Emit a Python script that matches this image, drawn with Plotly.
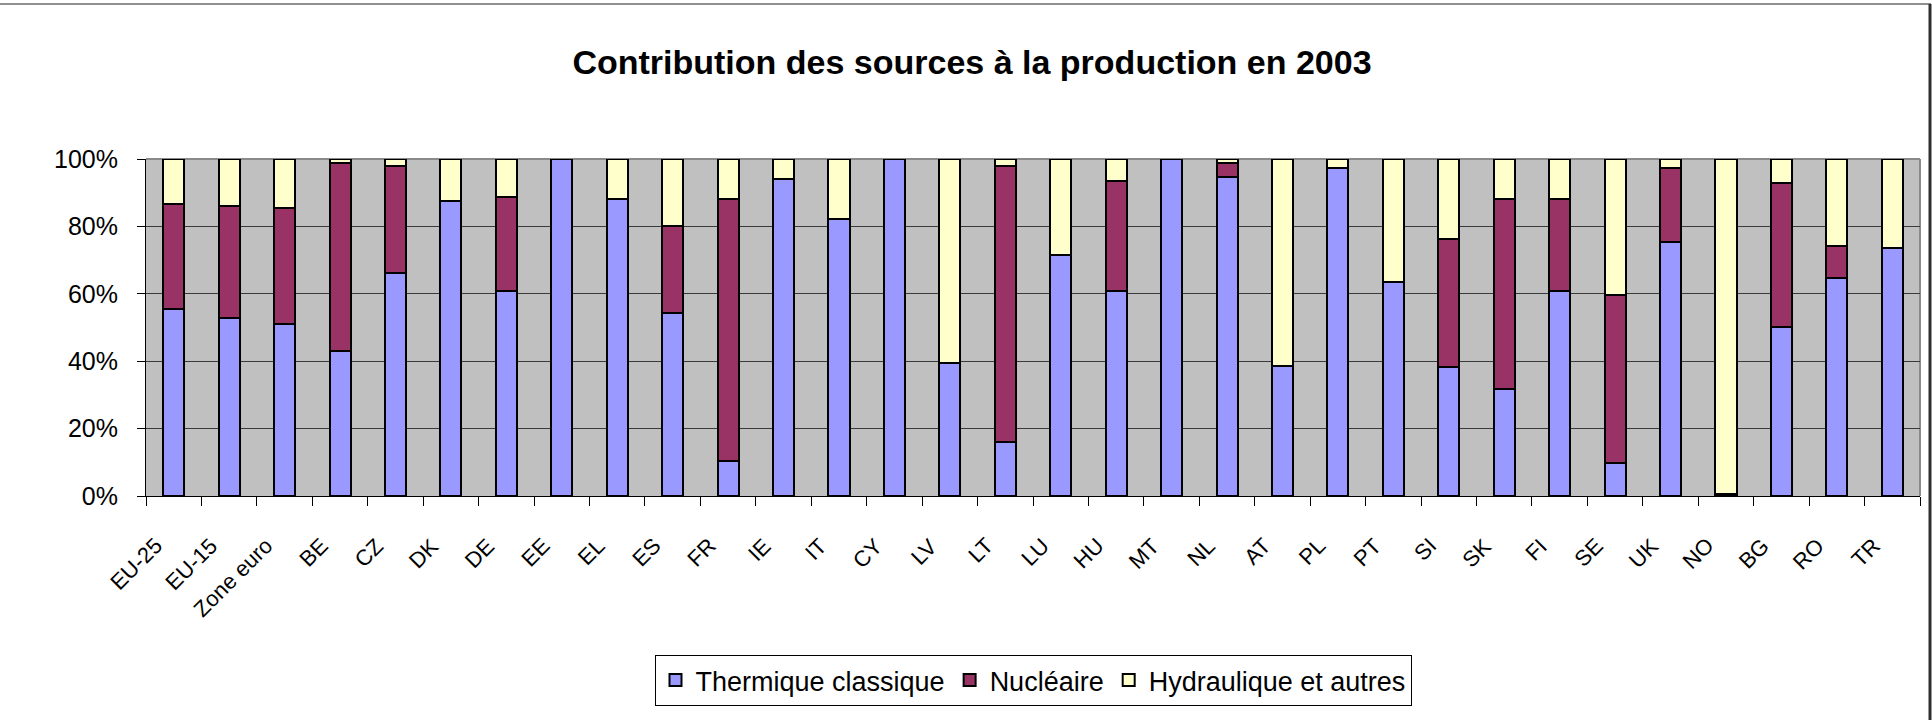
import plotly.graph_objects as go

categories = ["EU-25", "EU-15", "Zone euro", "BE", "CZ", "DK", "DE", "EE", "EL", "ES",
              "FR", "IE", "IT", "CY", "LV", "LT", "LU", "HU", "MT", "NL", "AT", "PL",
              "PT", "SI", "SK", "FI", "SE", "UK", "NO", "BG", "RO", "TR"]

thermique = [55.5, 52.9, 50.9, 43.1, 66.2, 87.5, 60.9, 100, 88.0, 54.2,
             10.4, 94.0, 82.2, 100, 39.6, 15.9, 71.5, 60.9, 100, 94.6, 38.5, 97.3,
             63.5, 38.4, 31.9, 60.9, 9.9, 75.4, 0.5, 50.2, 64.8, 73.5]

nucleaire = [31.2, 33.1, 34.5, 55.6, 31.8, 0, 27.8, 0, 0, 25.9,
             77.6, 0, 0, 0, 0, 82.1, 0, 32.5, 0, 4.2, 0, 0,
             0, 37.9, 56.2, 27.2, 49.8, 21.9, 0, 42.7, 9.3, 0]

hydraulique = [13.3, 14.0, 14.6, 1.3, 2.0, 12.5, 11.3, 0, 12.0, 19.9,
               12.0, 6.0, 17.8, 0, 60.4, 2.0, 28.5, 6.6, 0, 1.2, 61.5, 2.7,
               36.5, 23.7, 11.9, 11.9, 40.3, 2.7, 99.5, 7.1, 25.9, 26.5]

y_tick_values = [0, 20, 40, 60, 80, 100]
y_tick_labels = ["0%", "20%", "40%", "60%", "80%", "100%"]

series_names = ["Thermique classique", "Nucléaire", "Hydraulique et autres"]
series_colors = ["#9999FF", "#993366", "#FFFFCC"]

W, H = 1932, 720
ML, MR, MT, MB = 146, 12, 159, 224
PW = W - ML - MR
PH = H - MT - MB


def px_x(X):
    return (X - ML) / PW


def px_y(Y):
    return (H - MB - Y) / PH


FONT = "Liberation Sans, Arial, sans-serif"

fig = go.Figure()
for name, vals, col in zip(series_names, [thermique, nucleaire, hydraulique], series_colors):
    fig.add_trace(go.Bar(
        x=categories, y=vals, name=name,
        marker=dict(color=col, line=dict(color="black", width=2)),
    ))

# rotated category labels (placed as annotations for precise positioning)
label_annotations = [
    dict(x=c, xref="x", y=0, yref="paper", text=c, textangle=-45,
         showarrow=False, xanchor="right", yanchor="top",
         xshift=-6, yshift=-36, borderpad=0,
         font=dict(family=FONT, size=22, color="black"))
    for c in categories
]

fig.update_layout(
    width=W, height=H,
    margin=dict(l=ML, r=MR, t=MT, b=MB, autoexpand=False),
    barmode="stack",
    bargap=0.62,
    paper_bgcolor="white",
    plot_bgcolor="#C0C0C0",
    font=dict(family=FONT, color="black", size=22),
    title=dict(
        text="<b>Contribution des sources à la production en 2003</b>",
        font=dict(family=FONT, size=34, color="black"),
        x=972 / W, xref="container", xanchor="center",
        y=1 - 62 / H, yref="container", yanchor="middle",
    ),
    legend=dict(
        orientation="h",
        x=0.5, xanchor="center",
        y=px_y(655), yanchor="top",
        bordercolor="black", borderwidth=1,
        bgcolor="white",
        font=dict(family=FONT, size=27, color="black"),
        traceorder="normal",
        itemwidth=30,
    ),
    xaxis=dict(
        type="category",
        range=[-0.5, len(categories) - 0.5],
        autorange=False,
        ticks="outside", ticklen=9, tickcolor="black", tickwidth=1,
        tickson="boundaries",
        showticklabels=False,
        showline=True, linecolor="black", linewidth=1,
        showgrid=False,
    ),
    yaxis=dict(
        range=[0, 100],
        autorange=False,
        tickmode="array",
        tickvals=y_tick_values,
        ticktext=y_tick_labels,
        ticks="outside", ticklen=8, tickcolor="black", tickwidth=1,
        showline=True, linecolor="black", linewidth=1,
        showgrid=True, gridcolor="#3a3a3a", gridwidth=1,
        zeroline=False,
        tickfont=dict(family=FONT, size=25, color="black"),
        ticklabelstandoff=14,
    ),
    annotations=label_annotations,
    shapes=[
        # plot area top/right border
        dict(type="line", xref="paper", yref="paper", x0=0, x1=1, y0=1, y1=1,
             line=dict(color="#8a8a8a", width=2), layer="between"),
        dict(type="line", xref="paper", yref="paper", x0=1, x1=1, y0=0, y1=1,
             line=dict(color="#8a8a8a", width=2), layer="between"),
        # chart frame
        dict(type="line", xref="paper", yref="paper", x0=px_x(0), x1=px_x(1931),
             y0=px_y(4), y1=px_y(4), line=dict(color="#909090", width=2)),
        dict(type="line", xref="paper", yref="paper", x0=px_x(1930), x1=px_x(1930),
             y0=px_y(4), y1=px_y(720), line=dict(color="#303030", width=3)),
    ],
)

fig.write_html(
    "out.html",
    config={"displayModeBar": False},
    post_script="document.body.style.margin='0px';document.body.style.overflow='hidden';",
)
